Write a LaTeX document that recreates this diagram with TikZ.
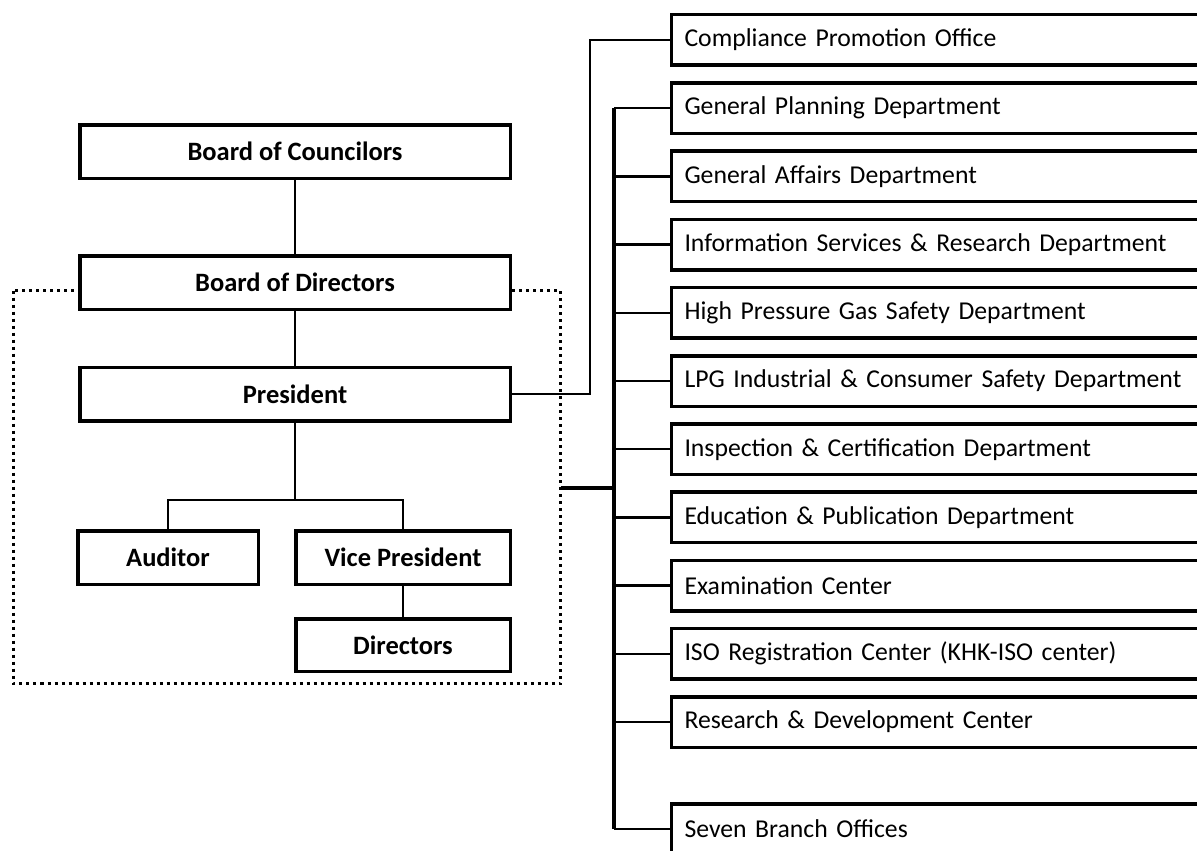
\documentclass[tikz,border=0pt]{standalone}
\usepackage{fontspec}
\setmainfont{Carlito}
\begin{document}
\begin{tikzpicture}[x=1pt,y=-1pt,
  headbox/.style={draw, line width=3.5pt, fill=white, inner sep=0pt,
    font=\fontsize{26.5}{30}\selectfont\bfseries, minimum height=53.5pt},
  unitbox/.style={draw, line width=3.5pt, fill=white, anchor=west,
    minimum width=600pt, minimum height=50.5pt, inner xsep=13pt,
    text width=574pt, align=left, font=\fontsize{25.7}{30}\selectfont},
  link/.style={line width=2.5pt},
  spine/.style={line width=3.5pt},
  frame/.style={line width=3pt, dash pattern=on 3pt off 4pt}]
\clip (0,0) rectangle (1197,851);
\useasboundingbox (0,0) rectangle (1197,851);

% management frame (dotted)
\coordinate (fNW) at (13.5,290.5);
\coordinate (fSE) at (560.5,683.5);
\coordinate (fE) at (560.5,488);
\draw[frame] (fNW) rectangle (fSE);

% governing bodies and executives
\node[headbox, minimum width=430.5pt] (council) at (295,151.5) {Board of Councilors};
\node[headbox, minimum width=430.5pt] (board) at (295,282.5) {Board of Directors};
\node[headbox, minimum width=430.5pt] (pres) at (295,394) {President};
\node[headbox, minimum width=180.5pt] (aud) at (168,557.5) {Auditor};
\node[headbox, minimum width=214.5pt] (vp) at (403,557.5) {Vice President};
\node[headbox, minimum width=214.5pt, minimum height=52.5pt] (dirs) at (403,645) {Directors};

\draw[link] (council.south) -- (board.north);
\draw[link] (board.south) -- (pres.north);
\coordinate (fork) at (295,500);
\draw[link] (pres.south) -- (fork);
\draw[link] (aud.north) |- (fork) -| (vp.north);
\draw[link] (vp.south) -- (dirs.north);

% departments
\node[unitbox] (cpo) at (669.75,40) {Compliance Promotion Office};
\node[unitbox] (u1) at (669.75,108.2) {General Planning Department};
\node[unitbox] (u2) at (669.75,176.4) {General Affairs Department};
\node[unitbox] (u3) at (669.75,244.6) {Information Services \& Research Department};
\node[unitbox] (u4) at (669.75,312.8) {High Pressure Gas Safety Department};
\node[unitbox] (u5) at (669.75,381) {LPG Industrial \& Consumer Safety Department};
\node[unitbox] (u6) at (669.75,449.2) {Inspection \& Certification Department};
\node[unitbox] (u7) at (669.75,517.4) {Education \& Publication Department};
\node[unitbox] (u8) at (669.75,585.6) {Examination Center};
\node[unitbox] (u9) at (669.75,653.8) {ISO Registration Center (KHK-ISO center)};
\node[unitbox] (u10) at (669.75,722) {Research \& Development Center};
\node[unitbox] (u11) at (669.75,829) {Seven Branch Offices};

% president to compliance office
\coordinate (cpoturn) at (590,394);
\draw[link] (pres.east) -- (cpoturn) |- (cpo.west);

% department spine
\coordinate (sTop) at (614,108.2);
\coordinate (sBot) at (614,829);
\draw[spine] (sTop) -- (sBot);
\draw[spine] (fE) -- (fE -| sTop);
\foreach \u in {u1,u2,u3,u4,u5,u6,u7,u8,u9,u10,u11}
  \draw[link] (\u.west) -- (\u.west -| sTop);
\end{tikzpicture}
\end{document}
